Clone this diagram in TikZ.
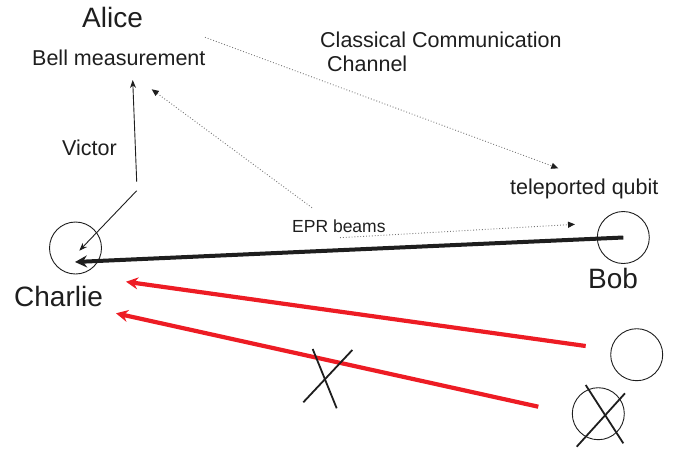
\documentclass[tikz,border=0pt]{standalone}
\usepackage{fontspec}
\setmainfont{Liberation Sans}
\usetikzlibrary{arrows.meta}
\definecolor{beamred}{RGB}{237,28,36}
\definecolor{dotgray}{RGB}{120,120,120}
\definecolor{ink}{RGB}{30,30,30}
\tikzset{
  bigtext/.style={font=\fontsize{28}{30}\selectfont, text=ink, inner sep=0pt, anchor=base west},
  smalltext/.style={font=\fontsize{21.5}{24}\selectfont, text=ink, inner sep=0pt, anchor=base west},
  eprtext/.style={font=\fontsize{17.5}{20}\selectfont, text=ink, inner sep=0pt, anchor=base west},
  ring/.style={circle, draw=ink, line width=0.9pt, minimum size=52pt, inner sep=0pt},
  heavyarrow/.style={draw=ink, line width=4pt, -{Stealth[length=12pt,width=12pt,inset=4pt]}},
  redarrow/.style={draw=beamred, line width=4.2pt, -{Stealth[length=12pt,width=12pt,inset=4pt]}},
  thinarrow/.style={draw=ink, line width=0.9pt, -{Stealth[length=8pt,width=6pt]}},
  dotarrow/.style={draw=dotgray, line width=0.9pt, dotted, -{Triangle[length=7pt,width=6pt,color=ink]}},
  crossline/.style={draw=ink, line width=1.8pt}
}
\begin{document}
\begin{tikzpicture}[x=1pt,y=-1pt]
\useasboundingbox (0,0) rectangle (679,451);

% texts
\node[bigtext] (alice) at (82,27) {Alice};
\node[smalltext] (bell) at (32,65) {Bell measurement};
\node[smalltext] (classical) at (320,47) {Classical Communication};
\node[smalltext] (channel) at (327,71) {Channel};
\node[smalltext] (victor) at (62,155) {Victor};
\node[smalltext] (teleported) at (510,194) {teleported qubit};
\node[eprtext] (epr) at (292,232) {EPR beams};
\node[bigtext] (charlie) at (14,306) {Charlie};
\node[bigtext] (bob) at (588,288) {Bob};

% circles
\node[ring] (charliecirc) at (75.5,248) {};
\node[ring] (bobcirc) at (623.3,237.5) {};
\node[ring] (qcirc) at (636.7,354.7) {};
\node[ring] (xcirc) at (598.3,413.7) {};

% coordinates
\coordinate (chtip) at (75,262);
\coordinate (red1s) at (585.7,346);
\coordinate (red1t) at (126,281.7);
\coordinate (red2s) at (538.3,406.7);
\coordinate (red2t) at (116,313.3);
\coordinate (vs) at (136.7,181.7);
\coordinate (vt) at (132.7,80);
\coordinate (ds) at (136.7,190.7);
\coordinate (dt) at (79.3,250.7);
\coordinate (ccs) at (205,37.3);
\coordinate (cct) at (558.3,168.3);
\coordinate (e1s) at (312,207.7);
\coordinate (e1t) at (151.7,89.3);
\coordinate (e2s) at (340,237.7);
\coordinate (e2t) at (575,224.3);
\coordinate (xa1) at (585.7,385);
\coordinate (xa2) at (623.3,443.3);
\coordinate (xb1) at (625,393.3);
\coordinate (xb2) at (576.7,446.7);
\coordinate (ma1) at (312.7,349);
\coordinate (ma2) at (336.7,408.3);
\coordinate (mb1) at (303.3,402.3);
\coordinate (mb2) at (352.3,350);

% connectors
\draw[heavyarrow] (bobcirc.center) -- (chtip);
\draw[redarrow] (red1s) -- (red1t);
\draw[redarrow] (red2s) -- (red2t);
\draw[thinarrow] (vs) -- (vt);
\draw[thinarrow] (ds) -- (dt);
\draw[dotarrow] (ccs) -- (cct);
\draw[dotarrow] (e1s) -- (e1t);
\draw[dotarrow] (e2s) -- (e2t);

% crosses
\draw[crossline] (xa1) -- (xa2);
\draw[crossline] (xb1) -- (xb2);
\draw[crossline] (ma1) -- (ma2);
\draw[crossline] (mb1) -- (mb2);
\end{tikzpicture}
\end{document}
